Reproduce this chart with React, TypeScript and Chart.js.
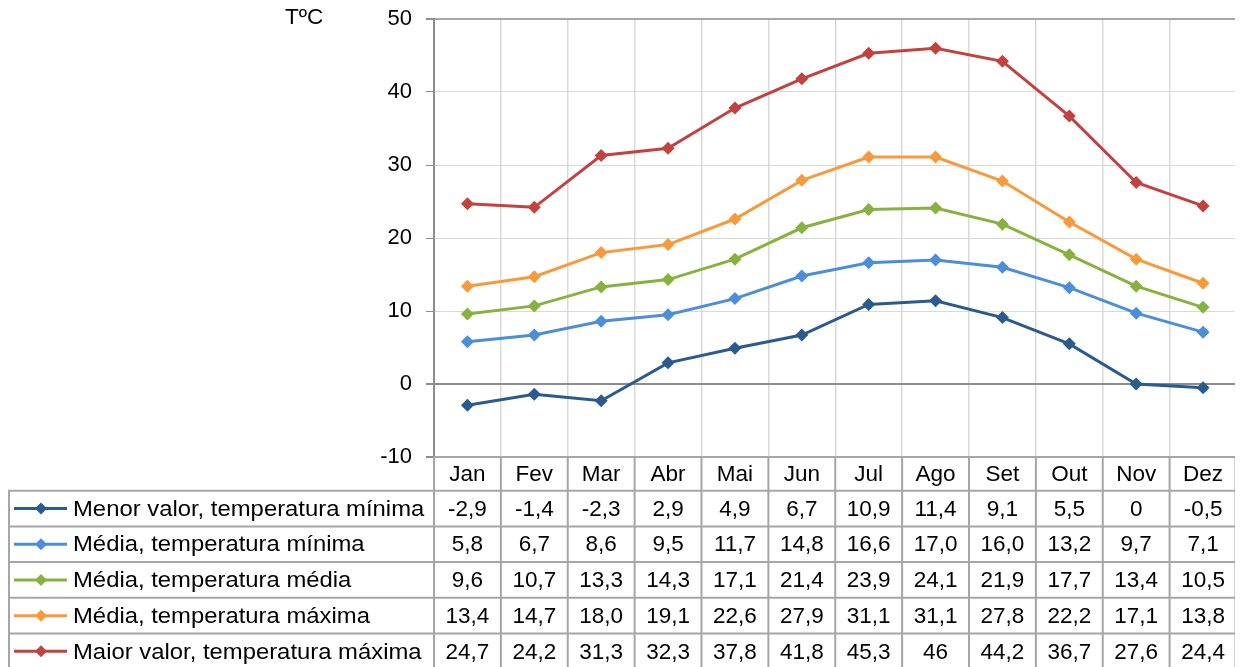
import React, { useEffect, useRef } from "react";
import { Chart, registerables } from "chart.js";

Chart.register(...registerables);

const months = ["Jan", "Fev", "Mar", "Abr", "Mai", "Jun", "Jul", "Ago", "Set", "Out", "Nov", "Dez"];
const yTicks = [-10, 0, 10, 20, 30, 40, 50];
const unitLabel = "TºC";

const menorMinLabels = ["-2,9", "-1,4", "-2,3", "2,9", "4,9", "6,7", "10,9", "11,4", "9,1", "5,5", "0", "-0,5"];
const mediaMinLabels = ["5,8", "6,7", "8,6", "9,5", "11,7", "14,8", "16,6", "17,0", "16,0", "13,2", "9,7", "7,1"];
const mediaMedLabels = ["9,6", "10,7", "13,3", "14,3", "17,1", "21,4", "23,9", "24,1", "21,9", "17,7", "13,4", "10,5"];
const mediaMaxLabels = ["13,4", "14,7", "18,0", "19,1", "22,6", "27,9", "31,1", "31,1", "27,8", "22,2", "17,1", "13,8"];
const maiorMaxLabels = ["24,7", "24,2", "31,3", "32,3", "37,8", "41,8", "45,3", "46", "44,2", "36,7", "27,6", "24,4"];

const seriesNames = [
  "Menor valor, temperatura mínima",
  "Média, temperatura mínima",
  "Média, temperatura média",
  "Média, temperatura máxima",
  "Maior valor, temperatura máxima",
];
const seriesLabels = [menorMinLabels, mediaMinLabels, mediaMedLabels, mediaMaxLabels, maiorMaxLabels];
const seriesColors = ["#2a5a8e", "#4a8fd8", "#88b23f", "#f79a3c", "#c2423f"];

const toNum = (s: string) => Number(s.replace(",", "."));

const FONT = '"Liberation Sans", Arial, sans-serif';
const TABLE_FONT_SIZE = 22.5;
const HEADER_H = 33.7;
const ROW_H = 35.7;

const tablePlugin = {
  id: "tablePlugin",
  afterDraw(chart: any) {
    const { ctx, chartArea, scales } = chart;
    const xs = scales.x;
    const colW = chartArea.width / months.length;
    const headerTop = chartArea.bottom;
    const rowsTop = headerTop + HEADER_H;
    const H = chart.height;
    ctx.save();

    // unit label
    ctx.fillStyle = "#000";
    ctx.font = `22.5px ${FONT}`;
    ctx.textAlign = "left";
    ctx.textBaseline = "middle";
    ctx.fillText(unitLabel, 277, 10);

    // grid of table
    ctx.strokeStyle = "#a6a6a6";
    ctx.lineWidth = 2;
    ctx.beginPath();
    ctx.moveTo(chartArea.left, headerTop);
    ctx.lineTo(chartArea.right, headerTop);
    for (let r = 0; r <= seriesNames.length; r++) {
      const y = rowsTop + r * ROW_H;
      ctx.moveTo(0, y);
      ctx.lineTo(chartArea.right, y);
    }
    for (let i = 0; i <= months.length; i++) {
      let x = chartArea.left + i * colW;
      if (i === months.length) x -= 1;
      ctx.moveTo(x, headerTop);
      ctx.lineTo(x, H);
    }
    ctx.moveTo(1, rowsTop);
    ctx.lineTo(1, H);
    ctx.stroke();

    ctx.font = `${TABLE_FONT_SIZE}px ${FONT}`;
    ctx.fillStyle = "#000";
    ctx.textAlign = "center";
    ctx.textBaseline = "middle";
    months.forEach((m, i) => {
      ctx.fillText(m, xs.getPixelForValue(i), headerTop + HEADER_H / 2 + 1);
    });

    seriesNames.forEach((name, r) => {
      const yc = rowsTop + r * ROW_H + ROW_H / 2 + 1;
      // legend sample
      ctx.strokeStyle = seriesColors[r];
      ctx.lineWidth = 3;
      ctx.beginPath();
      ctx.moveTo(6, yc - 1);
      ctx.lineTo(59, yc - 1);
      ctx.stroke();
      ctx.fillStyle = seriesColors[r];
      ctx.beginPath();
      ctx.moveTo(33, yc - 1 - 6);
      ctx.lineTo(39, yc - 1);
      ctx.lineTo(33, yc - 1 + 6);
      ctx.lineTo(27, yc - 1);
      ctx.closePath();
      ctx.fill();
      ctx.fillStyle = "#000";
      ctx.textAlign = "left";
      ctx.save();
      ctx.translate(65, yc);
      ctx.scale(1.06, 1);
      ctx.fillText(name, 0, 0);
      ctx.restore();
      ctx.textAlign = "center";
      seriesLabels[r].forEach((v, i) => {
        ctx.fillText(v, xs.getPixelForValue(i), yc);
      });
    });
    ctx.restore();
  },
};

export default function App() {
  const canvasRef = useRef<HTMLCanvasElement | null>(null);

  useEffect(() => {
    if (!canvasRef.current) return;
    const chart = new Chart(canvasRef.current, {
      type: "line",
      data: {
        labels: months,
        datasets: seriesNames.map((name, k) => ({
          label: name,
          data: seriesLabels[k].map(toNum),
          borderColor: seriesColors[k],
          backgroundColor: seriesColors[k],
          borderWidth: 3,
          pointStyle: "rectRot",
          pointRadius: 6.5,
          pointBorderWidth: 0,
          pointBackgroundColor: seriesColors[k],
          tension: 0,
          fill: false,
        })),
      },
      options: {
        animation: false,
        responsive: true,
        maintainAspectRatio: false,
        layout: { padding: { top: 11, left: 0, right: 0, bottom: 0 } },
        plugins: {
          legend: { display: false },
          tooltip: { enabled: false },
          title: { display: false },
        },
        scales: {
          x: {
            type: "category",
            offset: true,
            grid: {
              offset: true,
              color: "#d9d9d9",
              lineWidth: 1.5,
              drawTicks: false,
            },
            border: { display: false },
            ticks: { display: false },
            afterFit: (s: any) => {
              s.height = 210;
              s.paddingLeft = 0;
              s.paddingRight = 0;
            },
          },
          y: {
            min: yTicks[0],
            max: yTicks[yTicks.length - 1],
            afterBuildTicks: (s: any) => {
              s.ticks = yTicks.map((v) => ({ value: v }));
            },
            grid: {
              color: (c: any) =>
                c.tick && c.tick.value === 0
                  ? "#8c8c8c"
                  : c.tick && (c.tick.value === 50 || c.tick.value === -10)
                  ? "#a6a6a6"
                  : "#d9d9d9",
              lineWidth: (c: any) =>
                c.tick && (c.tick.value === 0 || c.tick.value === 50 || c.tick.value === -10) ? 2 : 1,
              tickColor: "#8c8c8c",
              tickLength: 8,
            },
            border: { color: "#8c8c8c", width: 2 },
            ticks: {
              color: "#000",
              font: { family: FONT, size: 22 },
              padding: 14,
              callback: (v: any) => String(v),
            },
            afterFit: (s: any) => {
              s.width = 426;
              s.paddingTop = 0;
              s.paddingBottom = 0;
            },
          },
        },
      },
      plugins: [tablePlugin],
    });
    return () => chart.destroy();
  }, []);

  return (
    <div style={{ width: 1235, height: 659, position: "relative" }}>
      <canvas ref={canvasRef} />
    </div>
  );
}
